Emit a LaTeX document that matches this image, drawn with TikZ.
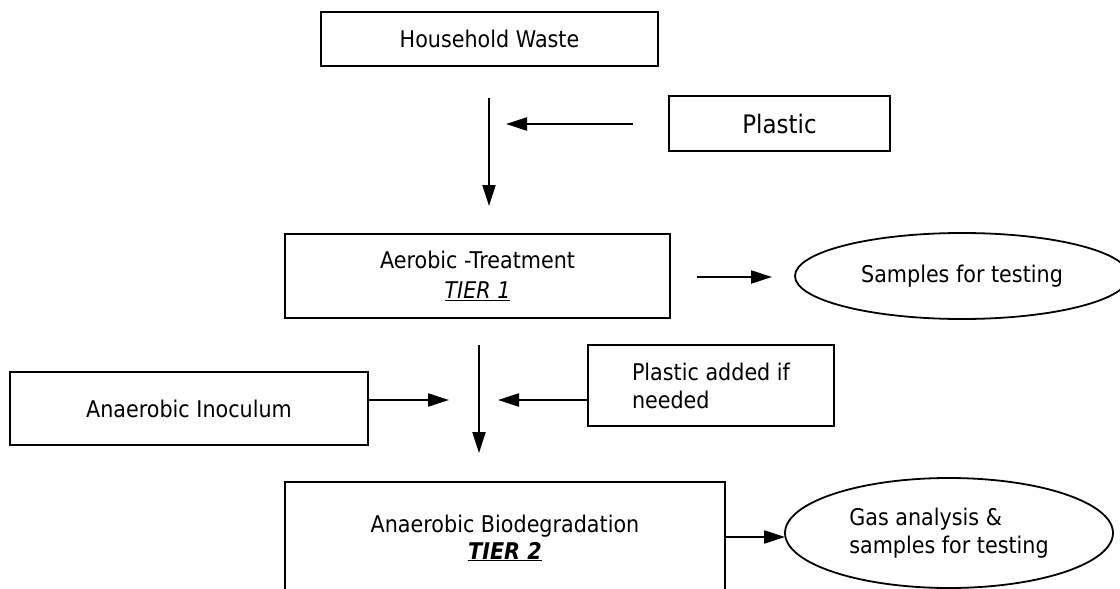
\documentclass[tikz,border=0pt]{standalone}
\usepackage{fontspec}
\setmainfont[FakeStretch=0.9]{DejaVu Sans}
\usetikzlibrary{arrows.meta,shapes.geometric}
\begin{document}
\begin{tikzpicture}[x=1pt,y=-1pt,
  box/.style={draw, line width=2pt, inner sep=0pt, font=\fontsize{23}{29}\selectfont, align=center},
  oval/.style={draw, ellipse, line width=1.8pt, inner sep=0pt, font=\fontsize{23}{29}\selectfont, align=center},
  flow/.style={line width=2.2pt, -{Triangle[length=21pt,width=13pt]}}]
\path[use as bounding box, clip] (0,0) rectangle (1120,589);
% nodes
\node[box, minimum width=337, minimum height=54] (hw) at (489.5,39) {Household Waste};
\node[box, minimum width=221, minimum height=55, font=\fontsize{25.5}{29}\selectfont] (pl) at (779.5,123.5) {Plastic};
\node[box, minimum width=385, minimum height=84] (aer) at (477.5,276) {Aerobic -Treatment\\[1pt]\textit{\underline{TIER 1}}};
\node[oval, minimum width=334, minimum height=86] (samp) at (962,276) {Samples for testing};
\node[box, minimum width=358, minimum height=73] (ino) at (189,408.5) {Anaerobic Inoculum};
\node[box, minimum width=246, minimum height=81, align=left] (pad) at (711,385.5) {Plastic added if\\[-1pt]needed};
\node[box, minimum width=440, minimum height=112] (bio) at (505,538) {Anaerobic Biodegradation\\[-2pt]\textbf{\textit{\underline{TIER 2}}}};
\node[oval, minimum width=328, minimum height=110, align=left] (gas) at (949,533) {Gas analysis \&\\[-1pt]samples for testing};
% free connector ends
\coordinate (a1s) at (489,98);  \coordinate (a1e) at (489,206);
\coordinate (p1s) at (633,124); \coordinate (p1e) at (506,124);
\coordinate (s1s) at (697,277); \coordinate (s1e) at (772,277);
\coordinate (a2s) at (479,345); \coordinate (a2e) at (479,453);
\coordinate (i1e) at (449,400); \coordinate (pa1e) at (498,400);
\coordinate (g1e) at (785,537);
% connectors
\draw[flow] (a1s) -- (a1e);
\draw[flow] (p1s) -- (p1e);
\draw[flow] (s1s) -- (s1e);
\draw[flow] (a2s) -- (a2e);
\draw[flow] (ino.east |- i1e) -- (i1e);
\draw[flow] (pad.west |- pa1e) -- (pa1e);
\draw[flow] (bio.east |- g1e) -- (g1e);
\end{tikzpicture}
\end{document}
